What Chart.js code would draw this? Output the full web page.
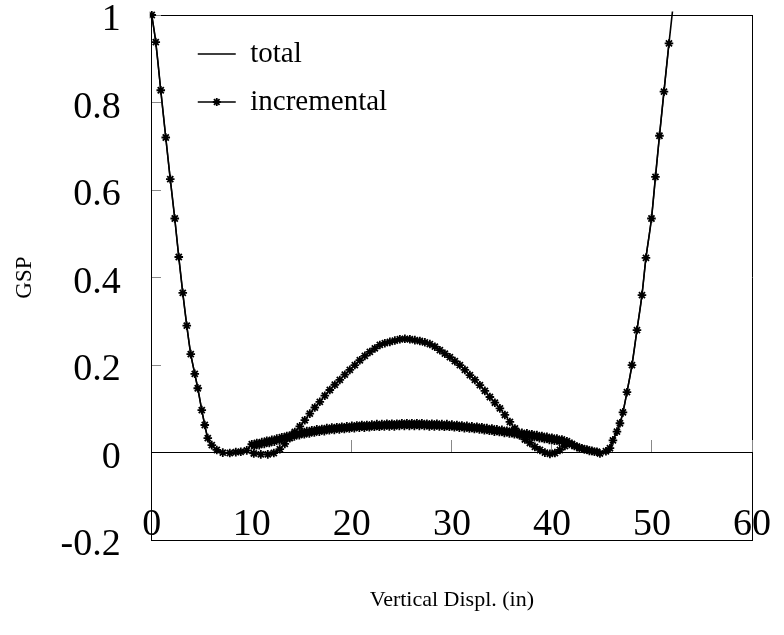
<!DOCTYPE html>
<html>
<head>
<meta charset="utf-8">
<script src="https://cdn.jsdelivr.net/npm/chart.js@4.4.1/dist/chart.umd.min.js"></script>
<style>
  html, body { margin: 0; padding: 0; background: #fff; }
  #contenedor { width: 784px; height: 635px; }
</style>
</head>
<body>
<div id="contenedor"><canvas id="grafica_gsp" width="784" height="635"></canvas></div>
<script>
// DATOS (GSP vs desplazamiento vertical)

// rama izquierda de la U (desde GSP = 1 hasta el minimo)
const ramaIzqX = [0, 0.4, 0.9, 1.4, 1.85, 2.3, 2.7, 3.1, 3.5, 3.9, 4.3, 4.6, 5.0, 5.3, 5.6, 6.0, 6.5, 7.1, 7.8, 8.4, 8.9, 9.5]
const ramaIzqY = [1.0, 0.938, 0.828, 0.72, 0.625, 0.535, 0.447, 0.365, 0.29, 0.225, 0.18, 0.147, 0.097, 0.063, 0.033, 0.017, 0.006, 0.0, -0.001, 0.001, 0.002, 0.005]

// banda baja (puntos muy seguidos, sube y baja un poco)
const bandaX = [10.0, 10.25, 10.5, 10.75, 11.0, 11.25, 11.5, 11.75, 12.0, 12.25,
    12.5, 12.75, 13.0, 13.25, 13.5, 13.75, 14.0, 14.25, 14.5, 14.75,
    15.0, 15.25, 15.5, 15.75, 16.0, 16.25, 16.5, 16.75, 17.0, 17.25,
    17.5, 17.75, 18.0, 18.25, 18.5, 18.75, 19.0, 19.25, 19.5, 19.75,
    20.0, 20.25, 20.5, 20.75, 21.0, 21.25, 21.5, 21.75, 22.0, 22.25,
    22.5, 22.75, 23.0, 23.25, 23.5, 23.75, 24.0, 24.25, 24.5, 24.75,
    25.0, 25.25, 25.5, 25.75, 26.0, 26.25, 26.5, 26.75, 27.0, 27.25,
    27.5, 27.75, 28.0, 28.25, 28.5, 28.75, 29.0, 29.25, 29.5, 29.75,
    30.0, 30.25, 30.5, 30.75, 31.0, 31.25, 31.5, 31.75, 32.0, 32.25,
    32.5, 32.75, 33.0, 33.25, 33.5, 33.75, 34.0, 34.25, 34.5, 34.75,
    35.0, 35.25, 35.5, 35.75, 36.0, 36.25, 36.5, 36.75, 37.0, 37.25,
    37.5, 37.75, 38.0, 38.25, 38.5, 38.75, 39.0, 39.25, 39.5, 39.75,
    40.0, 40.25, 40.5, 40.75, 41.0, 41.25, 41.5, 41.75, 42.0, 42.25,
    42.5, 42.75, 43.0, 43.25, 43.5, 43.75, 44.0, 44.25, 44.5]
const bandaY = [0.019, 0.015, 0.022, 0.017, 0.024, 0.020, 0.027, 0.022, 0.029, 0.025,
    0.032, 0.028, 0.035, 0.031, 0.038, 0.034, 0.041, 0.037, 0.044, 0.040,
    0.047, 0.042, 0.049, 0.044, 0.051, 0.046, 0.053, 0.048, 0.054, 0.049,
    0.056, 0.051, 0.057, 0.052, 0.058, 0.053, 0.059, 0.054, 0.060, 0.055,
    0.061, 0.056, 0.062, 0.057, 0.063, 0.057, 0.063, 0.058, 0.064, 0.059,
    0.065, 0.059, 0.065, 0.060, 0.066, 0.060, 0.066, 0.060, 0.066, 0.061,
    0.067, 0.061, 0.067, 0.061, 0.067, 0.061, 0.067, 0.061, 0.067, 0.061,
    0.066, 0.060, 0.066, 0.060, 0.066, 0.060, 0.065, 0.059, 0.065, 0.059,
    0.064, 0.058, 0.063, 0.057, 0.062, 0.056, 0.061, 0.055, 0.060, 0.054,
    0.059, 0.053, 0.058, 0.051, 0.056, 0.050, 0.055, 0.048, 0.053, 0.047,
    0.052, 0.045, 0.050, 0.044, 0.049, 0.042, 0.047, 0.040, 0.045, 0.039,
    0.044, 0.037, 0.042, 0.035, 0.040, 0.033, 0.038, 0.031, 0.036, 0.029,
    0.034, 0.027, 0.032, 0.025, 0.030, 0.023, 0.026, 0.020, 0.020, 0.015,
    0.014, 0.010, 0.010, 0.007, 0.007, 0.004, 0.004, 0.002, 0.002]

// rama derecha de la U (el ultimo punto solo lo usa "total")
const ramaDerX = [44.8, 45.4, 45.8, 46.1, 46.5, 46.8, 47.1, 47.5, 48.0, 48.5, 49.0, 49.4, 49.95, 50.35, 50.75, 51.2, 51.7, 52.05]
const ramaDerY = [-0.002, 0.003, 0.01, 0.028, 0.048, 0.067, 0.092, 0.138, 0.2, 0.28, 0.36, 0.445, 0.535, 0.63, 0.724, 0.825, 0.935, 1.008]

// joroba del incremental (pico ~0.26)
const jorobaX = [10.2, 10.9, 11.6, 12.2, 12.8, 13.3, 13.8, 14.3, 14.8, 15.3,
    15.8, 16.3, 16.8, 17.3, 17.8, 18.3, 18.8, 19.3, 19.8, 20.3,
    20.8, 21.3, 21.8, 22.3, 22.8, 23.3, 23.8, 24.3, 24.8, 25.3,
    25.8, 26.3, 26.8, 27.3, 27.8, 28.3, 28.8, 29.3, 29.8, 30.3,
    30.8, 31.3, 31.8, 32.3, 32.8, 33.3, 33.8, 34.3, 34.8, 35.3,
    35.8, 36.3, 36.8, 37.3, 37.8, 38.3, 38.8, 39.3, 39.8, 40.3,
    40.8, 41.3]
const jorobaY = [-0.002, -0.004, -0.004, -0.001, 0.008, 0.02, 0.033, 0.047, 0.06, 0.074,
    0.089, 0.103, 0.116, 0.13, 0.143, 0.155, 0.166, 0.178, 0.189, 0.2,
    0.211, 0.221, 0.23, 0.238, 0.246, 0.25, 0.253, 0.256, 0.259, 0.26,
    0.259, 0.257, 0.255, 0.252, 0.248, 0.242, 0.234, 0.226, 0.218, 0.209,
    0.2, 0.189, 0.177, 0.166, 0.154, 0.141, 0.127, 0.114, 0.101, 0.086,
    0.07, 0.055, 0.04, 0.03, 0.022, 0.013, 0.006, 0.0, -0.003, -0.001,
    0.006, 0.015]

// ejes
const ejeX = { min: 0, max: 60, paso: 10 }
const ejeY = { min: -0.2, max: 1, paso: 0.2 }


function puntos(xs, ys) {
    return xs.map((x, i) => ({ x: x, y: ys[i] }))
}

const datosTotal = [
    ...puntos(ramaIzqX, ramaIzqY),
    ...puntos(bandaX, bandaY),
    ...puntos(ramaDerX, ramaDerY)
]

// el null corta la linea entre la U y la joroba
const datosIncremental = [
    ...puntos(ramaIzqX, ramaIzqY),
    ...puntos(bandaX, bandaY),
    ...puntos(ramaDerX.slice(0, -1), ramaDerY.slice(0, -1)),
    { x: null, y: null },
    ...puntos(jorobaX, jorobaY)
]

Chart.defaults.font.family = "'Liberation Serif', 'Times New Roman', serif"
Chart.defaults.color = '#000'

const TAM_LEYENDA = 29
const PAD_LEYENDA = 19
const CAJA_LEYENDA = 38
const TRANSPARENTE = 'rgba(0,0,0,0)'

function dibujarEstrella(ctx, cx, cy, r) {
    ctx.save()
    ctx.strokeStyle = '#000'
    ctx.lineWidth = 1.8
    ctx.beginPath()
    for (let k = 0; k < 4; k++) {
        const a = k * Math.PI / 4
        ctx.moveTo(cx - r * Math.cos(a), cy - r * Math.sin(a))
        ctx.lineTo(cx + r * Math.cos(a), cy + r * Math.sin(a))
    }
    ctx.stroke()
    ctx.restore()
}

// mueve la leyenda dentro del area y le pone el marcador al "incremental"
const leyendaDentro = {
    id: 'leyendaDentro',
    afterLayout(chart) {
        const ley = chart.legend
        ley.left = chart.chartArea.left + 27
        ley.top = chart.chartArea.top + 5.5
    },
    afterDraw(chart) {
        const ley = chart.legend
        const cx = ley.left + PAD_LEYENDA + CAJA_LEYENDA / 2
        const cy = ley.top + PAD_LEYENDA + (TAM_LEYENDA + PAD_LEYENDA) + TAM_LEYENDA / 2
        dibujarEstrella(chart.ctx, cx, cy, 4)
    }
}

const ctx_gsp = document.getElementById('grafica_gsp').getContext('2d');

new Chart(ctx_gsp, {
    type: 'line',
    data: {
        datasets: [{
            label: 'total',
            data: datosTotal,
            borderColor: '#000',
            backgroundColor: '#000',
            borderWidth: 1.6,
            pointRadius: 0,
            cubicInterpolationMode: 'monotone',
            clip: { left: 2, top: 4, right: 2, bottom: 2 }
        }, {
            label: 'incremental',
            data: datosIncremental,
            borderColor: '#000',
            backgroundColor: '#000',
            borderWidth: 1.4,
            tension: 0.2,
            spanGaps: false,
            pointStyle: 'star',
            pointRadius: 4.3,
            pointBorderWidth: 1.8,
            pointBorderColor: '#000',
            pointBackgroundColor: '#000',
            clip: { left: 2, top: 4, right: 2, bottom: 2 }
        }]
    },
    options: {
        responsive: false,
        animation: false,
        devicePixelRatio: 1,
        layout: {
            padding: { top: 15, right: 32, bottom: 22, left: 0 }
        },
        scales: {
            x: {
                type: 'linear',
                position: 'bottom',
                min: ejeX.min,
                max: ejeX.max,
                ticks: {
                    stepSize: ejeX.paso,
                    font: { size: 38, lineHeight: 0.75 },
                    mirror: true,
                    padding: 0.75,
                    maxRotation: 0,
                    autoSkip: false
                },
                // solo la linea de 60 (borde derecho)
                grid: {
                    drawOnChartArea: true,
                    drawTicks: false,
                    color: c => (c.tick && c.tick.value === ejeX.max) ? '#000' : TRANSPARENTE
                },
                border: { display: true, color: '#000', width: 1 },
                title: {
                    display: true,
                    text: 'Vertical Displ. (in)',
                    font: { size: 22 },
                    padding: { top: 45, bottom: 0 }
                }
            },
            // linea del cero con marcas hacia arriba
            xCero: {
                type: 'linear',
                axis: 'x',
                position: { y: 0 },
                min: ejeX.min,
                max: ejeX.max,
                ticks: { display: false, stepSize: ejeX.paso },
                grid: { drawOnChartArea: false, drawTicks: true, tickLength: -13, color: '#888' },
                border: { display: true, color: '#000', width: 1 }
            },
            y: {
                type: 'linear',
                position: 'left',
                min: ejeY.min,
                max: ejeY.max,
                ticks: {
                    stepSize: ejeY.paso,
                    font: { size: 38, lineHeight: 0.75 },
                    padding: 0,
                    labelOffset: 5,
                    callback: function(value){
                        return String(Math.round(value * 10) / 10)
                    }
                },
                // solo la linea de 1 (borde de arriba)
                grid: {
                    drawOnChartArea: true,
                    drawTicks: true,
                    tickLength: 31,
                    tickColor: TRANSPARENTE,
                    color: c => (c.tick && c.tick.value === ejeY.max) ? '#000' : TRANSPARENTE
                },
                border: { display: true, color: '#000', width: 1 },
                title: {
                    display: true,
                    text: 'GSP',
                    font: { size: 23 },
                    padding: { top: 11, bottom: 22 }
                }
            },
            // marcas cortas hacia adentro en el eje y
            yDentro: {
                type: 'linear',
                axis: 'y',
                position: { x: 0 },
                min: ejeY.min,
                max: ejeY.max,
                ticks: { display: false, stepSize: ejeY.paso },
                grid: { drawOnChartArea: false, drawTicks: true, tickLength: -9, color: '#888' },
                border: { display: false }
            }
        },
        plugins: {
            legend: {
                position: 'chartArea',
                align: 'start',
                labels: {
                    boxWidth: CAJA_LEYENDA,
                    boxHeight: 0,
                    padding: PAD_LEYENDA,
                    font: { size: TAM_LEYENDA }
                }
            },
            tooltip: { enabled: false }
        }
    },
    plugins: [leyendaDentro]
});
</script>
</body>
</html>
